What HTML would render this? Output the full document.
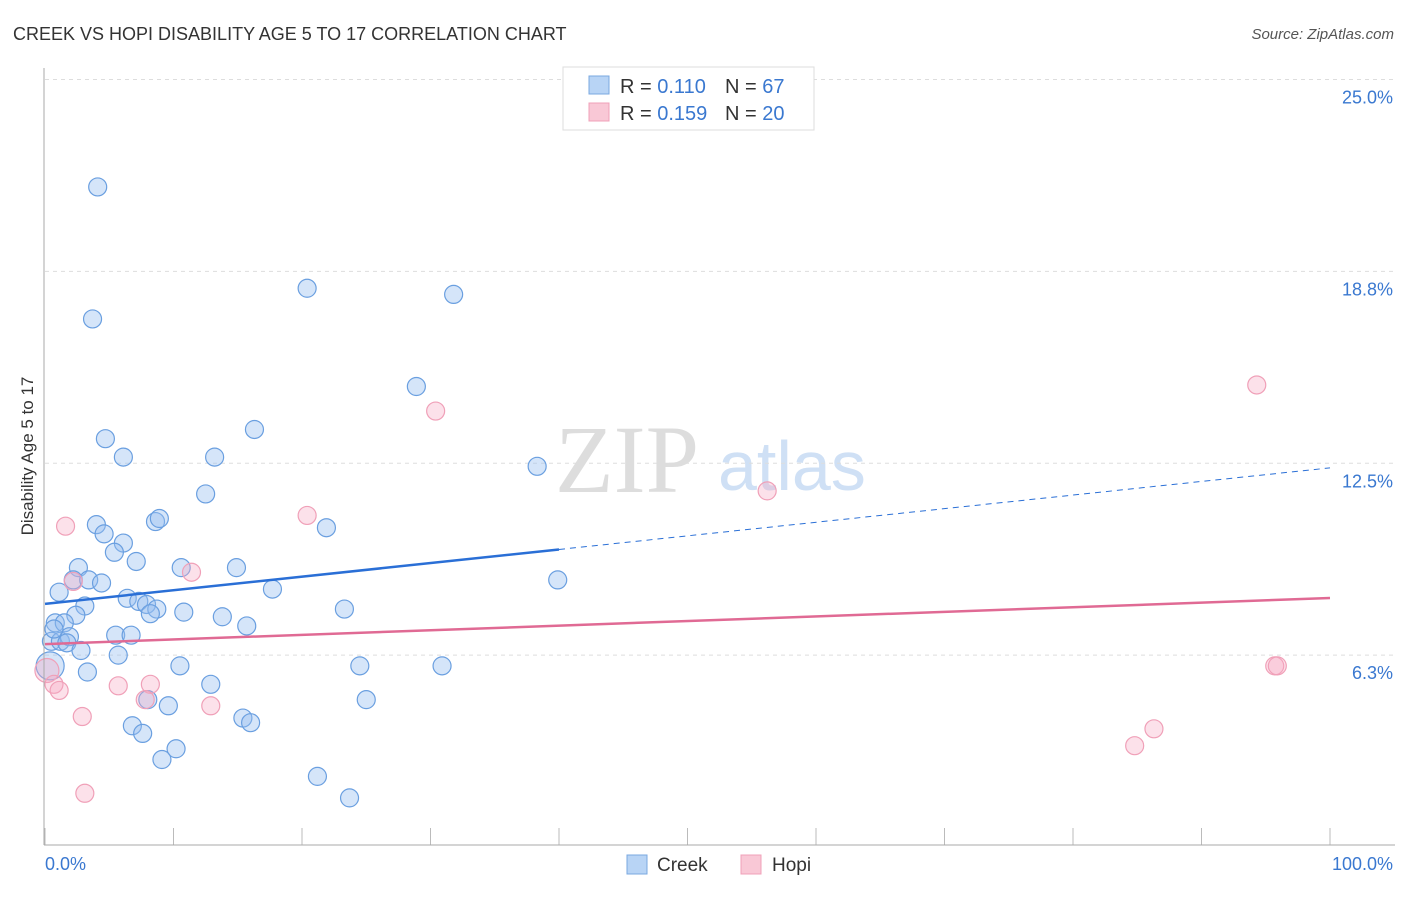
<!DOCTYPE html>
<html><head><meta charset="utf-8"><style>
body{margin:0;background:#fff;font-family:"Liberation Sans",sans-serif}
svg text{font-family:"Liberation Sans",sans-serif}
</style></head><body>
<svg id="c" width="1406" height="892" viewBox="0 0 1406 892">
<text x="13" y="40" font-size="18" fill="#333">CREEK VS HOPI DISABILITY AGE 5 TO 17 CORRELATION CHART</text>
<text x="1394" y="39" font-size="15" fill="#555" font-style="italic" text-anchor="end">Source: ZipAtlas.com</text>
<text x="555" y="492" font-size="96" fill="#ddd" font-family="Liberation Serif" style="font-family:'Liberation Serif',serif">ZIP</text>
<text x="718" y="490" font-size="70" fill="#cfe0f5">atlas</text>
<g id="grid"></g><g id="pts"></g><g id="lines"></g>
<line x1="44" y1="68" x2="44" y2="845" stroke="#aaa"/>
<line x1="44" y1="845" x2="1395" y2="845" stroke="#aaa"/>
<text transform="translate(33,456) rotate(-90)" font-size="17" fill="#333" text-anchor="middle">Disability Age 5 to 17</text>
<text x="45" y="870" font-size="18" fill="#3a78d0">0.0%</text>
<text x="1393" y="870" font-size="18" fill="#3a78d0" text-anchor="end">100.0%</text>
<g>
<rect x="563" y="67" width="251" height="63" fill="#fff" stroke="#ddd"/>
<rect x="589" y="76" width="20" height="18" fill="#b8d4f5" stroke="#7aa8e0"/>
<rect x="589" y="103" width="20" height="18" fill="#f9c8d6" stroke="#f0a0b8"/>
<text x="620" y="93" font-size="20" fill="#333">R = <tspan fill="#3a78d0">0.110</tspan><tspan x="725">N = </tspan><tspan fill="#3a78d0">67</tspan></text>
<text x="620" y="120" font-size="20" fill="#333">R = <tspan fill="#3a78d0">0.159</tspan><tspan x="725">N = </tspan><tspan fill="#3a78d0">20</tspan></text>
</g>
<g>
<rect x="627" y="855" width="20" height="19" fill="#b8d4f5" stroke="#7aa8e0"/>
<text x="657" y="871" font-size="19" fill="#333">Creek</text>
<rect x="741" y="855" width="20" height="19" fill="#f9c8d6" stroke="#f0a0b8"/>
<text x="772" y="871" font-size="19" fill="#333">Hopi</text>
</g>
</svg>
<script>
const yTicks=[25.0,18.8,12.5,6.3];
const yTickVals=[25,18.75,12.5,6.25];
const xTicks=[0,10,20,30,40,50,60,70,80,90,100];
const creekX=[4.1,3.7,20.4,31.8,28.9,4.7,6.1,13.2,16.3,38.3,12.5,4.0,8.6,8.9,4.6,21.9,6.1,5.4,7.1,2.6,10.6,14.9,39.9,2.2,3.4,4.4,1.1,17.7,6.4,7.3,7.9,8.7,8.2,10.8,3.1,2.4,23.3,13.8,0.8,1.5,15.7,5.5,6.7,0.5,1.2,1.9,1.7,2.8,5.7,0.4,10.5,24.5,30.9,3.3,12.9,8.0,9.6,25.0,15.4,16.0,6.8,7.6,10.2,9.1,21.2,23.7,0.7];
const creekY=[21.5,17.2,18.2,18.0,15.0,13.3,12.7,12.7,13.6,12.4,11.5,10.5,10.6,10.7,10.2,10.4,9.9,9.6,9.3,9.1,9.1,9.1,8.7,8.7,8.7,8.6,8.3,8.4,8.1,8.0,7.9,7.75,7.6,7.65,7.85,7.55,7.75,7.5,7.3,7.3,7.2,6.9,6.9,6.7,6.7,6.85,6.65,6.4,6.25,5.9,5.9,5.9,5.9,5.7,5.3,4.8,4.6,4.8,4.2,4.05,3.95,3.7,3.2,2.85,2.3,1.6,7.1];
const hopiX=[1.6,2.2,11.4,20.4,30.4,56.2,94.3,95.7,95.9,0.15,0.7,1.1,5.7,8.2,7.8,12.9,2.9,3.1,86.3,84.8];
const hopiY=[10.45,8.65,8.95,10.8,14.2,11.6,15.05,5.9,5.9,5.75,5.3,5.1,5.25,5.3,4.8,4.6,4.25,1.75,3.85,3.3];
const creekTrend=[7.92,12.35];
const hopiTrend=[6.61,8.11];
const creekSolidEnd=40;
const NS='http://www.w3.org/2000/svg';
const X=v=>45+v*12.85, Y=v=>847-v*30.7;
function mk(t,a,p){const e=document.createElementNS(NS,t);for(const k in a)e.setAttribute(k,a[k]);p.appendChild(e);return e;}
const g=document.getElementById('grid');
yTickVals.forEach((v,i)=>{
 const l=mk('line',{x1:45,x2:1395,y1:Y(v),y2:Y(v),stroke:'#ddd','stroke-dasharray':'4,4'},g);
 
 
 const t=mk('text',{x:1393,y:Y(v)+24,'font-size':18,fill:'#3a78d0','text-anchor':'end'},g);
 t.textContent=yTicks[i].toFixed(1)+'%';
 
 
});
xTicks.forEach(v=>{
 const l=mk('line',{x1:X(v),x2:X(v),y1:828,y2:845,stroke:'#bbb'},g);
 
 
});
const p=document.getElementById('pts');
creekX.forEach((x,i)=>{
 const big=i==49;
 const c=mk('circle',{cx:X(x),cy:Y(creekY[i]),r:big?14:9,fill:'rgba(150,190,240,0.4)',stroke:'#6a9fe0','stroke-width':1.2},p);
 
 
});
hopiX.forEach((x,i)=>{
 const big=i==9;
 const c=mk('circle',{cx:X(x),cy:Y(hopiY[i]),r:big?12:9,fill:'rgba(245,170,195,0.35)',stroke:'#f0a0b8','stroke-width':1.2},p);
 
 
});
const L=document.getElementById('lines');
const cy=x=>creekTrend[0]+(creekTrend[1]-creekTrend[0])*x/100;
let a=mk('line',{x1:X(0),y1:Y(cy(0)),x2:X(creekSolidEnd),y2:Y(cy(creekSolidEnd)),stroke:'#2a6fd6','stroke-width':2.5},L);


a=mk('line',{x1:X(creekSolidEnd),y1:Y(cy(creekSolidEnd)),x2:X(100),y2:Y(cy(100)),stroke:'#2a6fd6','stroke-width':1,'stroke-dasharray':'6,5'},L);


a=mk('line',{x1:X(0),y1:Y(hopiTrend[0]),x2:X(100),y2:Y(hopiTrend[1]),stroke:'#e06a94','stroke-width':2.5},L);


</script>
</body></html>
